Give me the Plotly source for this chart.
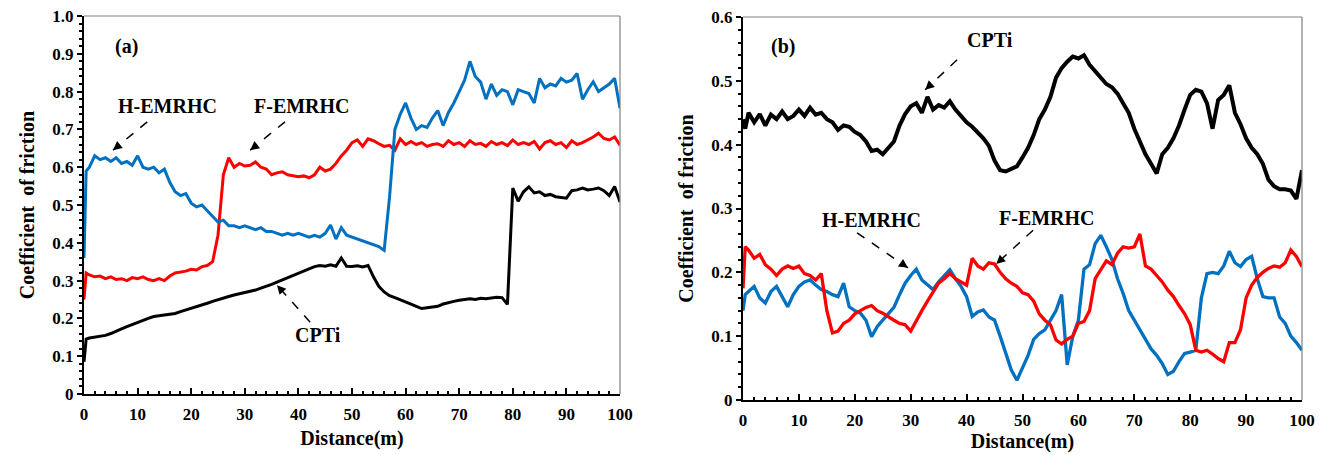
import plotly.graph_objects as go

# ---------------- data ----------------
distance = [0, 0.4] + list(range(1, 101))

# panel (a)
a_h_emrhc = [0.36, 0.59,
    0.60, 0.63, 0.62, 0.625, 0.615, 0.625, 0.61, 0.615, 0.605, 0.63,
    0.60, 0.595, 0.60, 0.585, 0.595, 0.56, 0.535, 0.525, 0.53, 0.505,
    0.495, 0.50, 0.485, 0.47, 0.455, 0.46, 0.445, 0.445, 0.44, 0.445,
    0.44, 0.435, 0.44, 0.43, 0.43, 0.425, 0.42, 0.425, 0.42, 0.425,
    0.42, 0.415, 0.42, 0.415, 0.425, 0.447, 0.41, 0.44, 0.42, 0.415,
    0.41, 0.405, 0.40, 0.395, 0.39, 0.38, 0.52, 0.70, 0.74, 0.77,
    0.73, 0.70, 0.71, 0.705, 0.73, 0.75, 0.71, 0.745, 0.77, 0.80,
    0.83, 0.88, 0.84, 0.825, 0.78, 0.82, 0.79, 0.805, 0.80, 0.765,
    0.805, 0.80, 0.795, 0.77, 0.835, 0.81, 0.82, 0.815, 0.835, 0.825,
    0.83, 0.848, 0.78, 0.805, 0.826, 0.80, 0.81, 0.82, 0.835, 0.756]

a_f_emrhc = [0.25, 0.32,
    0.315, 0.31, 0.312, 0.305, 0.31, 0.303, 0.305, 0.30, 0.308, 0.305,
    0.31, 0.303, 0.30, 0.305, 0.30, 0.312, 0.32, 0.322, 0.325, 0.33,
    0.328, 0.337, 0.34, 0.35, 0.42, 0.58, 0.625, 0.60, 0.61, 0.603,
    0.605, 0.614, 0.60, 0.595, 0.58, 0.585, 0.588, 0.58, 0.578, 0.575,
    0.577, 0.572, 0.58, 0.60, 0.59, 0.595, 0.61, 0.63, 0.645, 0.665,
    0.672, 0.655, 0.675, 0.67, 0.662, 0.655, 0.658, 0.645, 0.675, 0.66,
    0.668, 0.66, 0.665, 0.655, 0.66, 0.662, 0.655, 0.67, 0.66, 0.665,
    0.655, 0.67, 0.66, 0.663, 0.655, 0.668, 0.66, 0.665, 0.657, 0.672,
    0.66, 0.665, 0.66, 0.668, 0.648, 0.665, 0.67, 0.66, 0.665, 0.652,
    0.67, 0.66, 0.665, 0.672, 0.68, 0.69, 0.676, 0.672, 0.68, 0.658]

a_cpti = [0.085, 0.145,
    0.148, 0.15, 0.152, 0.155, 0.16, 0.165, 0.172, 0.178, 0.184, 0.19,
    0.196, 0.20, 0.205, 0.207, 0.209, 0.212, 0.213, 0.218, 0.222, 0.226,
    0.232, 0.236, 0.24, 0.245, 0.25, 0.255, 0.258, 0.262, 0.265, 0.268,
    0.271, 0.275, 0.28, 0.284, 0.29, 0.296, 0.302, 0.308, 0.315, 0.32,
    0.326, 0.332, 0.337, 0.34, 0.338, 0.342, 0.338, 0.36, 0.338, 0.337,
    0.339, 0.336, 0.34, 0.31, 0.285, 0.27, 0.26, 0.255, 0.25, 0.245,
    0.238, 0.232, 0.226, 0.228, 0.23, 0.232, 0.238, 0.242, 0.245, 0.248,
    0.25, 0.252, 0.25, 0.253, 0.252, 0.255, 0.256, 0.255, 0.237, 0.545,
    0.51, 0.535, 0.548, 0.532, 0.535, 0.525, 0.528, 0.522, 0.52, 0.518,
    0.538, 0.54, 0.545, 0.54, 0.542, 0.545, 0.538, 0.525, 0.549, 0.508]

# panel (b)
b_cpti = [0.44, 0.425,
    0.45, 0.435, 0.448, 0.43, 0.447, 0.44, 0.452, 0.44, 0.445, 0.455,
    0.445, 0.458, 0.447, 0.45, 0.44, 0.435, 0.423, 0.43, 0.428, 0.42,
    0.415, 0.405, 0.39, 0.392, 0.385, 0.395, 0.405, 0.43, 0.448, 0.46,
    0.465, 0.45, 0.475, 0.455, 0.462, 0.458, 0.468, 0.455, 0.445, 0.435,
    0.428, 0.42, 0.41, 0.398, 0.375, 0.36, 0.358, 0.362, 0.366, 0.38,
    0.395, 0.415, 0.44, 0.455, 0.475, 0.505, 0.52, 0.53, 0.538, 0.535,
    0.54, 0.525, 0.515, 0.505, 0.495, 0.49, 0.48, 0.465, 0.45, 0.425,
    0.405, 0.385, 0.37, 0.355, 0.385, 0.395, 0.41, 0.43, 0.455, 0.478,
    0.486, 0.483, 0.465, 0.425, 0.47, 0.478, 0.493, 0.45, 0.432, 0.41,
    0.395, 0.385, 0.37, 0.345, 0.335, 0.33, 0.33, 0.328, 0.315, 0.36]

b_f_emrhc = [0.175, 0.24,
    0.235, 0.222, 0.228, 0.212, 0.205, 0.195, 0.205, 0.21, 0.206, 0.21,
    0.198, 0.195, 0.188, 0.198, 0.14, 0.105, 0.108, 0.12, 0.125, 0.135,
    0.14, 0.145, 0.148, 0.14, 0.136, 0.13, 0.125, 0.12, 0.118, 0.108,
    0.125, 0.14, 0.155, 0.17, 0.183, 0.19, 0.198, 0.19, 0.185, 0.18,
    0.222, 0.21, 0.205, 0.215, 0.213, 0.20, 0.19, 0.183, 0.178, 0.168,
    0.165, 0.155, 0.135, 0.125, 0.118, 0.094, 0.088, 0.095, 0.10, 0.12,
    0.123, 0.14, 0.19, 0.205, 0.218, 0.212, 0.23, 0.24, 0.238, 0.24,
    0.26, 0.21, 0.205, 0.195, 0.185, 0.172, 0.162, 0.148, 0.135, 0.118,
    0.078, 0.075, 0.078, 0.072, 0.065, 0.06, 0.09, 0.09, 0.11, 0.16,
    0.18, 0.192, 0.20, 0.206, 0.21, 0.208, 0.215, 0.235, 0.225, 0.209]

b_h_emrhc = [0.14, 0.165,
    0.17, 0.178, 0.16, 0.152, 0.17, 0.178, 0.162, 0.146, 0.165, 0.178,
    0.185, 0.188, 0.18, 0.173, 0.17, 0.165, 0.162, 0.183, 0.146, 0.14,
    0.136, 0.125, 0.099, 0.115, 0.125, 0.135, 0.145, 0.165, 0.183, 0.195,
    0.205, 0.188, 0.18, 0.173, 0.185, 0.195, 0.204, 0.19, 0.178, 0.162,
    0.131, 0.138, 0.141, 0.13, 0.125, 0.10, 0.075, 0.047, 0.031, 0.05,
    0.07, 0.095, 0.104, 0.11, 0.125, 0.14, 0.165, 0.055, 0.10, 0.125,
    0.205, 0.212, 0.245, 0.258, 0.24, 0.22, 0.19, 0.167, 0.14, 0.125,
    0.11, 0.095, 0.08, 0.07, 0.057, 0.04, 0.045, 0.06, 0.073, 0.075,
    0.078, 0.16, 0.198, 0.20, 0.198, 0.21, 0.233, 0.215, 0.209, 0.22,
    0.225, 0.19, 0.162, 0.16, 0.16, 0.13, 0.12, 0.10, 0.09, 0.078]

x_tickvals = [0, 10, 20, 30, 40, 50, 60, 70, 80, 90, 100]
x_ticktext = ["0", "10", "20", "30", "40", "50", "60", "70", "80", "90", "100"]
ya_tickvals = [0, 0.1, 0.2, 0.3, 0.4, 0.5, 0.6, 0.7, 0.8, 0.9, 1.0]
ya_ticktext = ["0", "0.1", "0.2", "0.3", "0.4", "0.5", "0.6", "0.7", "0.8", "0.9", "1.0"]
yb_tickvals = [0, 0.1, 0.2, 0.3, 0.4, 0.5, 0.6]
yb_ticktext = ["0", "0.1", "0.2", "0.3", "0.4", "0.5", "0.6"]

BLUE = "#0070C0"
RED = "#FF0000"
BLACK = "#000000"
FONT = "Liberation Serif, 'Times New Roman', 'DejaVu Serif', serif"

fig = go.Figure()

def add_line(x, y, color, xa, ya, name, w=3):
    fig.add_trace(go.Scatter(x=x, y=y, mode="lines", name=name,
                             line=dict(color=color, width=w),
                             xaxis=xa, yaxis=ya, showlegend=False))

add_line(distance, a_cpti, BLACK, "x", "y", "CPTi")
add_line(distance, a_f_emrhc, RED, "x", "y", "F-EMRHC")
add_line(distance, a_h_emrhc, BLUE, "x", "y", "H-EMRHC")
add_line(distance, b_cpti, BLACK, "x2", "y2", "CPTi", 4)
add_line(distance, b_h_emrhc, BLUE, "x2", "y2", "H-EMRHC", 3.3)
add_line(distance, b_f_emrhc, RED, "x2", "y2", "F-EMRHC", 3.3)

tickfont = dict(family=FONT, size=17, color="black", weight="bold")
titlefont = dict(family=FONT, size=20, color="black", weight="bold")

def xaxis_cfg(domain, anchor, title_standoff):
    return dict(domain=domain, anchor=anchor, range=[0, 100], automargin=False,
                tickvals=x_tickvals, ticktext=x_ticktext,
                ticks="inside", ticklen=6, tickwidth=1.5, tickcolor="black",
                ticklabelstandoff=4,
                minor=dict(dtick=2, tick0=0, ticks="inside", ticklen=3,
                           tickwidth=1.5, tickcolor="black"),
                showline=True, linecolor="black", linewidth=2,
                showgrid=False, zeroline=False, tickfont=tickfont,
                title=dict(text="Distance(m)", font=titlefont, standoff=title_standoff))

def yaxis_cfg(domain, anchor, rng, tv, tt):
    return dict(domain=domain, anchor=anchor, range=rng, automargin=False,
                tickvals=tv, ticktext=tt,
                ticks="outside", ticklen=5, tickwidth=1.5, tickcolor="black",
                minor=dict(dtick=0.02, tick0=0, ticks="outside", ticklen=3,
                           tickwidth=1.5, tickcolor="black"),
                showline=True, linecolor="black", linewidth=2,
                showgrid=False, zeroline=False, tickfont=tickfont,
                title=dict(text="Coefficient  of friction", font=titlefont, standoff=12))

W, H = 1326, 455
fig.update_layout(
    width=W, height=H, margin=dict(l=0, r=0, t=0, b=0, autoexpand=False),
    paper_bgcolor="white", plot_bgcolor="white",
    xaxis=xaxis_cfg([84 / W, 620 / W], "y", 8),
    yaxis=yaxis_cfg([1 - 394 / H, 1 - 16 / H], "x", [0, 1.0], ya_tickvals, ya_ticktext),
    xaxis2=xaxis_cfg([743 / W, 1302 / W], "y2", 2),
    yaxis2=yaxis_cfg([1 - 400 / H, 1 - 17 / H], "x2", [0, 0.6], yb_tickvals, yb_ticktext),
)

# grey top / right frame
for xr, yr in (("x domain", "y domain"), ("x2 domain", "y2 domain")):
    fig.add_shape(type="line", xref=xr, yref=yr, x0=0, x1=1, y0=1, y1=1,
                  line=dict(color="#808080", width=1.2))
    fig.add_shape(type="line", xref=xr, yref=yr, x0=1, x1=1, y0=0, y1=1,
                  line=dict(color="#808080", width=1.2))

# labels and dashed arrows
labels = [
    ("x", "y", 8.0, 0.918, "(a)"),
    ("x", "y", 15.5, 0.762, "H-EMRHC"),
    ("x", "y", 40.7, 0.762, "F-EMRHC"),
    ("x", "y", 43.7, 0.156, "CPTi"),
    ("x2", "y2", 7.2, 0.553, "(b)"),
    ("x2", "y2", 44.2, 0.564, "CPTi"),
    ("x2", "y2", 22.9, 0.282, "H-EMRHC"),
    ("x2", "y2", 54.4, 0.285, "F-EMRHC"),
]
for xr, yr, x, y, t in labels:
    fig.add_annotation(xref=xr, yref=yr, x=x, y=y, text=t, showarrow=False,
                       font=titlefont)

arrows = [
    ("x", "y", 11.8, 0.72, 5.4, 0.645, 7, -5.7),
    ("x", "y", 37.5, 0.72, 31.0, 0.645, 7.2, -5.7),
    ("x", "y", 42.2, 0.19, 36.0, 0.288, 6, 6.7),
    ("x2", "y2", 38.3, 0.533, 32.6, 0.486, 6.6, -6.2),
    ("x2", "y2", 20.4, 0.262, 29.5, 0.207, -7.4, -5.1),
    ("x2", "y2", 51.9, 0.266, 45.3, 0.213, 6.6, -6.1),
]
for xr, yr, xs, ys, xt, yt, ax, ay in arrows:
    fig.add_shape(type="line", xref=xr, yref=yr, x0=xs, y0=ys, x1=xt, y1=yt,
                  line=dict(color="black", width=1.5, dash="dash"))
    fig.add_annotation(xref=xr, yref=yr, x=xt, y=yt, ax=ax, ay=ay, text="",
                       showarrow=True, arrowhead=2, arrowsize=1.2,
                       arrowwidth=1.5, arrowcolor="black")

fig.write_html("out.html")
